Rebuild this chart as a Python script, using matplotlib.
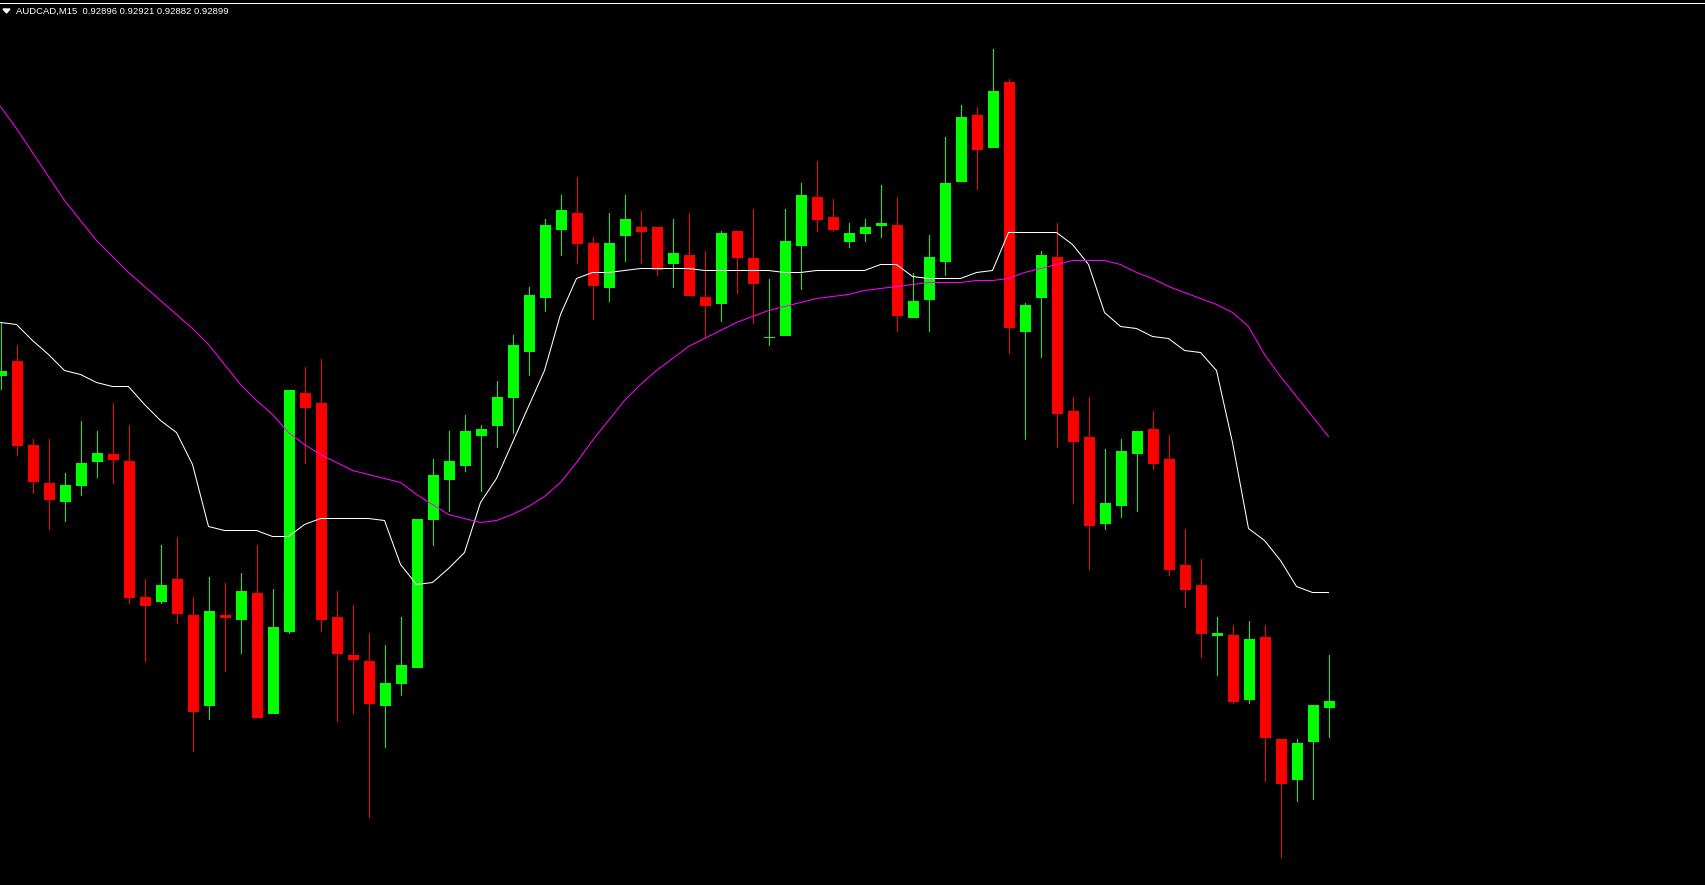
import numpy as np
import matplotlib
matplotlib.use("Agg")
import matplotlib.pyplot as plt
from matplotlib.lines import Line2D
from matplotlib.patches import Polygon

# AUDCAD M15 bars, oldest first
opens = [0.93062, 0.93069, 0.93027, 0.93008, 0.92999, 0.93007, 0.93019, 0.93022, 0.93019, 0.92951,
         0.92949, 0.92960, 0.92942, 0.92897, 0.92942, 0.92940, 0.92953, 0.92893, 0.92934, 0.93053,
         0.93048, 0.92941, 0.92922, 0.92919, 0.92897, 0.92908, 0.92916, 0.92990, 0.93010, 0.93017,
         0.93032, 0.93037, 0.93051, 0.93074, 0.93101, 0.93135, 0.93143, 0.93128, 0.93106, 0.93132,
         0.93136, 0.93136, 0.93118, 0.93122, 0.93101, 0.93098, 0.93134, 0.93120, 0.93081, 0.93082,
         0.93127, 0.93151, 0.93141, 0.93129, 0.93133, 0.93137, 0.93137, 0.93091, 0.93100, 0.93119,
         0.93159, 0.93192, 0.93176, 0.93208, 0.93084, 0.93101, 0.93121, 0.93044, 0.93031, 0.92988,
         0.92997, 0.93023, 0.93035, 0.93020, 0.92967, 0.92957, 0.92932, 0.92932, 0.92900, 0.92931,
         0.92880, 0.92860, 0.92879, 0.92896]
highs = [0.93088, 0.93077, 0.93030, 0.93030, 0.93013, 0.93039, 0.93034, 0.93048, 0.93037, 0.92960,
         0.92977, 0.92981, 0.92951, 0.92961, 0.92958, 0.92963, 0.92977, 0.92955, 0.93054, 0.93066,
         0.93070, 0.92954, 0.92947, 0.92933, 0.92927, 0.92941, 0.92990, 0.93020, 0.93034, 0.93042,
         0.93037, 0.93059, 0.93082, 0.93106, 0.93140, 0.93152, 0.93161, 0.93131, 0.93143, 0.93152,
         0.93144, 0.93136, 0.93140, 0.93143, 0.93124, 0.93134, 0.93134, 0.93145, 0.93110, 0.93145,
         0.93158, 0.93169, 0.93150, 0.93138, 0.93140, 0.93157, 0.93151, 0.93113, 0.93132, 0.93181,
         0.93197, 0.93196, 0.93225, 0.93210, 0.93098, 0.93124, 0.93138, 0.93051, 0.93051, 0.93025,
         0.93030, 0.93034, 0.93044, 0.93032, 0.92985, 0.92970, 0.92941, 0.92937, 0.92939, 0.92937,
         0.92880, 0.92880, 0.92897, 0.92922]
lows = [0.93055, 0.93022, 0.93003, 0.92985, 0.92989, 0.93002, 0.93011, 0.93008, 0.92948, 0.92919,
        0.92948, 0.92938, 0.92874, 0.92890, 0.92914, 0.92923, 0.92891, 0.92893, 0.92933, 0.93018,
        0.92934, 0.92889, 0.92893, 0.92841, 0.92876, 0.92902, 0.92916, 0.92977, 0.92994, 0.93014,
        0.93004, 0.93026, 0.93033, 0.93062, 0.93094, 0.93122, 0.93118, 0.93090, 0.93099, 0.93119,
        0.93118, 0.93112, 0.93106, 0.93102, 0.93081, 0.93089, 0.93103, 0.93088, 0.93077, 0.93082,
        0.93105, 0.93134, 0.93134, 0.93126, 0.93129, 0.93131, 0.93084, 0.93091, 0.93084, 0.93112,
        0.93159, 0.93155, 0.93176, 0.93073, 0.93030, 0.93071, 0.93026, 0.92998, 0.92965, 0.92985,
        0.92991, 0.92994, 0.93015, 0.92962, 0.92946, 0.92921, 0.92912, 0.92898, 0.92898, 0.92859,
        0.92821, 0.92849, 0.92850, 0.92881]
closes = [0.93064, 0.93027, 0.93009, 0.93000, 0.93007, 0.93018, 0.93023, 0.93020, 0.92951, 0.92947,
          0.92957, 0.92943, 0.92894, 0.92944, 0.92941, 0.92954, 0.92891, 0.92936, 0.93054, 0.93046,
          0.92940, 0.92923, 0.92920, 0.92898, 0.92908, 0.92917, 0.92990, 0.93012, 0.93019, 0.93034,
          0.93035, 0.93051, 0.93077, 0.93102, 0.93137, 0.93144, 0.93128, 0.93107, 0.93128, 0.93140,
          0.93134, 0.93115, 0.93123, 0.93102, 0.93097, 0.93133, 0.93121, 0.93108, 0.93081, 0.93129,
          0.93152, 0.93140, 0.93135, 0.93133, 0.93136, 0.93138, 0.93092, 0.93099, 0.93121, 0.93158,
          0.93191, 0.93175, 0.93204, 0.93086, 0.93097, 0.93122, 0.93043, 0.93029, 0.92987, 0.92998,
          0.93024, 0.93034, 0.93018, 0.92965, 0.92955, 0.92933, 0.92933, 0.92899, 0.92930, 0.92881,
          0.92858, 0.92878, 0.92897, 0.92899]

# the two moving averages on the chart
ma_fast = [0.93088, 0.93087, 0.93079, 0.93072, 0.93064, 0.93062, 0.93058, 0.93056, 0.93056, 0.93047,
           0.93039, 0.93033, 0.93017, 0.92986, 0.92984, 0.92984, 0.92984, 0.92981, 0.92981, 0.92987,
           0.92990, 0.92990, 0.92990, 0.92990, 0.92989, 0.92967, 0.92957, 0.92958, 0.92965, 0.92973,
           0.92998, 0.93010, 0.93028, 0.93046, 0.93064, 0.93092, 0.93110, 0.93113, 0.93113, 0.93114,
           0.93115, 0.93115, 0.93115, 0.93115, 0.93114, 0.93114, 0.93114, 0.93114, 0.93114, 0.93113,
           0.93113, 0.93114, 0.93114, 0.93114, 0.93114, 0.93117, 0.93117, 0.93111, 0.93110, 0.93110,
           0.93110, 0.93113, 0.93114, 0.93133, 0.93133, 0.93133, 0.93133, 0.93127, 0.93117, 0.93093,
           0.93086, 0.93085, 0.93081, 0.93080, 0.93074, 0.93073, 0.93064, 0.93028, 0.92985, 0.92979,
           0.92969, 0.92956, 0.92953, 0.92953]
ma_slow = [0.93196, 0.93185, 0.93173, 0.93161, 0.93149, 0.93139, 0.93129, 0.93121, 0.93113, 0.93106,
           0.93099, 0.93092, 0.93085, 0.93077, 0.93067, 0.93057, 0.93049, 0.93042, 0.93033, 0.93027,
           0.93022, 0.93018, 0.93014, 0.93012, 0.93010, 0.93008, 0.93002, 0.92997, 0.92992, 0.92990,
           0.92988, 0.92989, 0.92992, 0.92996, 0.93001, 0.93008, 0.93018, 0.93029, 0.93039, 0.93049,
           0.93057, 0.93064, 0.93070, 0.93076, 0.93080, 0.93084, 0.93088, 0.93091, 0.93094, 0.93096,
           0.93098, 0.93100, 0.93101, 0.93102, 0.93104, 0.93105, 0.93106, 0.93107, 0.93108, 0.93108,
           0.93108, 0.93109, 0.93109, 0.93110, 0.93113, 0.93115, 0.93117, 0.93119, 0.93119, 0.93119,
           0.93117, 0.93113, 0.93110, 0.93106, 0.93103, 0.93100, 0.93097, 0.93093, 0.93086, 0.93072,
           0.93061, 0.93051, 0.93041, 0.93031]

title = "AUDCAD,M15  0.92896 0.92921 0.92882 0.92899"

W, H = 1705, 885
PX = 0.72  # one pixel in points at dpi 100

fig = plt.figure(figsize=(W / 100, H / 100), dpi=100, facecolor="black")
ax = fig.add_axes([0, 0, 1, 1])
ax.set_facecolor("black")
ax.axis("off")

o = np.array(opens)
c = np.array(closes)
x = np.arange(len(o))
cols = np.where(c >= o, "#00FF00", "#FF0000")

# wicks then bodies, like the terminal draws them
ax.vlines(x, lows, highs, colors=cols, linewidth=PX, antialiased=False)
ax.bar(x, np.abs(c - o), bottom=np.minimum(o, c), width=10 / 16,
       color=cols, edgecolor=cols, linewidth=PX, antialiased=False)

# thin 1 px indicator lines
ax.plot(x, ma_fast, color="white", linewidth=0.75)
ax.plot(x, ma_slow, color="#FF00FF", linewidth=0.75)

# 16 px per bar, price scale 2 px per point
ax.set_xlim(-0.5 / 16, (W - 0.5) / 16)
ax.set_ylim(0.9280675, 0.9324925)

fig.add_artist(Line2D([0, 1], [1 - 2.5 / H] * 2, transform=fig.transFigure,
                      color="white", linewidth=PX, antialiased=False))
fig.add_artist(Polygon([[3 / W, 1 - 9 / H], [10 / W, 1 - 9 / H], [6.5 / W, 1 - 13 / H]],
                       closed=True, transform=fig.transFigure, color="white"))
fig.text(16 / W, 1 - 14 / H, title, color="white", fontsize=6.8,
         family="Liberation Sans", ha="left", va="baseline")

fig.savefig("out.png", dpi=100, facecolor="black")
